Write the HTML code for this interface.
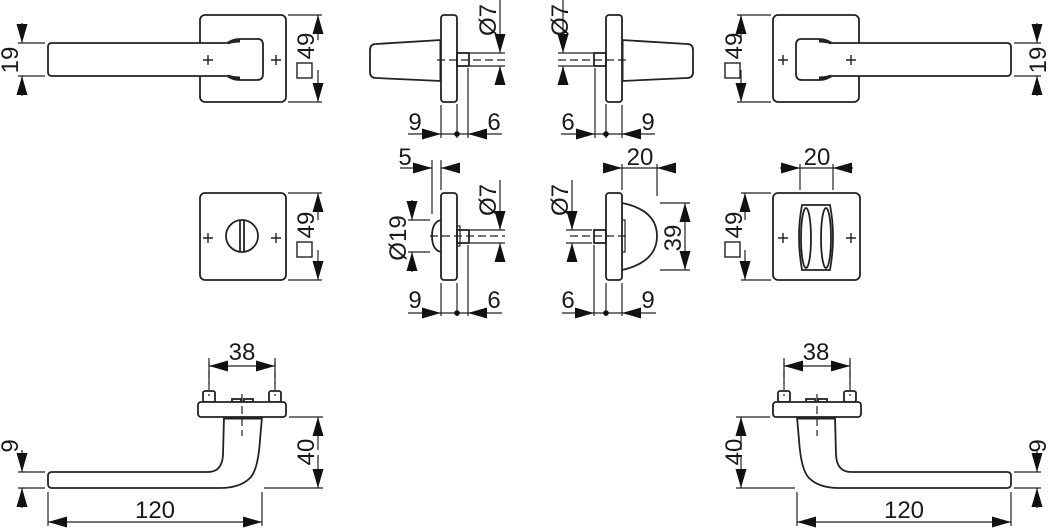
<!DOCTYPE html>
<html><head><meta charset="utf-8"><style>
html,body{margin:0;padding:0;background:#fff;}
svg{display:block;}
text{font-family:"Liberation Sans",sans-serif;font-size:24px;fill:#1a1a1a;}
</style></head><body>
<svg width="1048" height="528" viewBox="0 0 1048 528" xmlns="http://www.w3.org/2000/svg">
<defs>
<marker id="a" markerUnits="userSpaceOnUse" markerWidth="19" markerHeight="12" refX="19" refY="6" orient="auto"><path d="M0,0.5 L19,6 L0,11.5 Z" fill="#111"/></marker>
<g id="plus"><path d="M-5,0 H5 M0,-5 V5" stroke="#222" stroke-width="1.4"/></g>

<g id="tl" fill="none" stroke="#222" stroke-width="1.8">
 <rect x="200" y="15" width="86" height="87" rx="5"/>
 <path d="M52,43 L228,43 Q232,39 240,39 L258,39 Q263,39 263,45 L263,74 Q263,80 257,80 L240,80 Q232,80 228,76 L52,76 Q48,76 48,72 L48,47 Q48,43 52,43 Z" fill="#fff"/>
 <path d="M228,43 Q232,41 240,41 M228,76 Q232,78 240,78" stroke-width="3"/>
 <use href="#plus" x="208" y="60"/><use href="#plus" x="276" y="60"/>
 <path d="M288,15 H322 M288,102 H322 M18,43 H45 M18,76 H45" stroke-width="1.2"/>
 <line x1="318" y1="40" x2="318" y2="15" marker-end="url(#a)" stroke-width="1.2"/>
 <line x1="318" y1="70" x2="318" y2="102" marker-end="url(#a)" stroke-width="1.2"/>
 <line x1="22" y1="23" x2="22" y2="43" marker-end="url(#a)" stroke-width="1.2"/>
 <line x1="22" y1="96" x2="22" y2="76" marker-end="url(#a)" stroke-width="1.2"/>
</g>

<g id="ms" fill="none" stroke="#222" stroke-width="1.8">
 <path d="M441,40 L376,44 Q370,44 370,50 L370,72 Q370,78 376,78 L441,81" fill="#fff"/>
 <line x1="441" y1="41" x2="441" y2="80" stroke-width="3"/>
 <rect x="441" y="15" width="16" height="87" rx="3" fill="#fff"/>
 <rect x="457" y="53" width="12" height="13"/>
 <path d="M437,60 H505" stroke-dasharray="8,4" stroke-width="1.2"/>
 <path d="M470,53 H505 M470,66 H505 M441,105 V138 M468,68 V138" stroke-width="1.2"/>
 <line x1="500" y1="0" x2="500" y2="53" marker-end="url(#a)" stroke-width="1.2"/>
 <line x1="500" y1="84" x2="500" y2="66" marker-end="url(#a)" stroke-width="1.2"/>
 <line x1="408" y1="134" x2="441" y2="134" marker-end="url(#a)" stroke-width="1.2"/>
 <line x1="502" y1="134" x2="468" y2="134" marker-end="url(#a)" stroke-width="1.2"/>
 <path d="M441,134 H468 M457,104 V138" stroke-width="1.2"/>
 <circle cx="457" cy="134" r="2.8" fill="#111" stroke="none"/>
</g>

<g id="bl" fill="none" stroke="#222" stroke-width="1.8">
 <rect x="203" y="391" width="12" height="11" rx="2"/>
 <rect x="269" y="391" width="12" height="11" rx="2"/>
 <rect x="232" y="399" width="9" height="3"/><rect x="244" y="399" width="9" height="3"/>
 <rect x="198" y="402" width="88" height="15" rx="3" fill="#fff"/>
 <path d="M224,417 L223,455 Q222,472 208,472 L52,472 Q48,472 48,476 L48,484 Q48,488 52,488 L220,488 Q240,488 250,478 Q258,470 260,440 L262,417"/>
 <path d="M224,418 H262" stroke-width="3"/>
 <path d="M209,358 V396 M275,358 V396 M242,394 V436" stroke-dasharray="8,4" stroke-width="1.2"/>
 <path d="M209,362 V384 M275,362 V384" stroke-width="1.2"/>
 <line x1="242" y1="366" x2="209" y2="366" marker-end="url(#a)" stroke-width="1.2"/>
 <line x1="242" y1="366" x2="275" y2="366" marker-end="url(#a)" stroke-width="1.2"/>
 <path d="M289,417 H323 M264,488 H323 M18,472 H45 M18,488 H45 M48,492 V526 M262,492 V526" stroke-width="1.2"/>
 <line x1="318" y1="450" x2="318" y2="417" marker-end="url(#a)" stroke-width="1.2"/>
 <line x1="318" y1="455" x2="318" y2="488" marker-end="url(#a)" stroke-width="1.2"/>
 <line x1="22" y1="450" x2="22" y2="472" marker-end="url(#a)" stroke-width="1.2"/>
 <line x1="22" y1="508" x2="22" y2="488" marker-end="url(#a)" stroke-width="1.2"/>
 <line x1="150" y1="522" x2="48" y2="522" marker-end="url(#a)" stroke-width="1.2"/>
 <line x1="150" y1="522" x2="262" y2="522" marker-end="url(#a)" stroke-width="1.2"/>
</g>
</defs>

<use href="#tl"/>
<use href="#tl" transform="translate(1059,0) scale(-1,1)"/>
<use href="#ms"/>
<use href="#ms" transform="translate(1063,0) scale(-1,1)"/>
<use href="#bl"/>
<use href="#bl" transform="translate(1059,0) scale(-1,1)"/>

<g fill="none" stroke="#222" stroke-width="1.4">
 <rect x="297" y="63" width="15" height="15"/>
 <rect x="725" y="63" width="15" height="15"/>
 <rect x="297" y="242" width="15" height="15"/>
 <rect x="725" y="242" width="15" height="15"/>
</g>

<g fill="none" stroke="#222" stroke-width="1.8">
 <!-- middle-left escutcheon -->
 <rect x="200" y="193" width="86" height="87" rx="5"/>
 <circle cx="242" cy="236" r="16"/>
 <path d="M240,220 V252 M244,220 V252"/>
 <use href="#plus" x="208" y="238"/><use href="#plus" x="276" y="238"/>
 <path d="M288,193 H322 M288,280 H322" stroke-width="1.2"/>
 <line x1="318" y1="220" x2="318" y2="193" marker-end="url(#a)" stroke-width="1.2"/>
 <line x1="318" y1="250" x2="318" y2="280" marker-end="url(#a)" stroke-width="1.2"/>

 <!-- middle-right escutcheon -->
 <rect x="773" y="193" width="87" height="87" rx="5"/>
 <path d="M802,205 H830 Q836,236 830,270 H802 Q796,236 802,205 Z"/>
 <ellipse cx="806" cy="238" rx="5" ry="30"/>
 <ellipse cx="826" cy="238" rx="5" ry="30"/>
 <use href="#plus" x="783" y="238"/><use href="#plus" x="851" y="238"/>
 <path d="M741,193 H771 M741,280 H771 M800,164 V190 M833,164 V190" stroke-width="1.2"/>
 <line x1="745" y1="220" x2="745" y2="193" marker-end="url(#a)" stroke-width="1.2"/>
 <line x1="745" y1="250" x2="745" y2="280" marker-end="url(#a)" stroke-width="1.2"/>
 <line x1="780" y1="168" x2="800" y2="168" marker-end="url(#a)" stroke-width="1.2"/>
 <line x1="853" y1="168" x2="833" y2="168" marker-end="url(#a)" stroke-width="1.2"/>
 <path d="M800,168 H833" stroke-width="1.2"/>

 <!-- middle-left side view -->
 <path d="M441,220 Q432,222 432,236 Q432,250 441,252"/>
 <rect x="441" y="193" width="16" height="87" rx="3"/>
 <rect x="457" y="230" width="12" height="13"/>
 <rect x="457" y="226" width="3" height="20" stroke-width="1.2"/>
 <path d="M430,236 H505" stroke-dasharray="8,4" stroke-width="1.2"/>
 <path d="M470,230 H505 M470,243 H505 M408,220 H430 M408,252 H430 M432,160 V214 M441,160 V190 M441,283 V316 M468,245 V316" stroke-width="1.2"/>
 <line x1="500" y1="180" x2="500" y2="230" marker-end="url(#a)" stroke-width="1.2"/>
 <line x1="500" y1="262" x2="500" y2="243" marker-end="url(#a)" stroke-width="1.2"/>
 <line x1="412" y1="200" x2="412" y2="220" marker-end="url(#a)" stroke-width="1.2"/>
 <line x1="412" y1="272" x2="412" y2="252" marker-end="url(#a)" stroke-width="1.2"/>
 <line x1="400" y1="168" x2="432" y2="168" marker-end="url(#a)" stroke-width="1.2"/>
 <line x1="460" y1="168" x2="441" y2="168" marker-end="url(#a)" stroke-width="1.2"/>
 <line x1="408" y1="313" x2="441" y2="313" marker-end="url(#a)" stroke-width="1.2"/>
 <line x1="502" y1="313" x2="468" y2="313" marker-end="url(#a)" stroke-width="1.2"/>
 <path d="M441,313 H468 M457,283 V316" stroke-width="1.2"/>
 <circle cx="457" cy="313" r="2.8" fill="#111" stroke="none"/>

 <!-- middle-right side view -->
 <path d="M622,203 Q657,210 657,236 Q657,262 622,270"/>
 <rect x="622" y="220" width="3" height="32" stroke-width="1.2"/>
 <rect x="606" y="193" width="16" height="87" rx="3"/>
 <rect x="594" y="230" width="12" height="13"/>
 <path d="M570,236 H630" stroke-dasharray="8,4" stroke-width="1.2"/>
 <path d="M566,230 H592 M566,243 H592 M660,203 H690 M660,270 H690 M622,164 V190 M657,164 V196 M622,283 V316 M594,245 V316" stroke-width="1.2"/>
 <line x1="572" y1="180" x2="572" y2="230" marker-end="url(#a)" stroke-width="1.2"/>
 <line x1="572" y1="262" x2="572" y2="243" marker-end="url(#a)" stroke-width="1.2"/>
 <line x1="685" y1="236" x2="685" y2="203" marker-end="url(#a)" stroke-width="1.2"/>
 <line x1="685" y1="236" x2="685" y2="270" marker-end="url(#a)" stroke-width="1.2"/>
 <line x1="604" y1="168" x2="622" y2="168" marker-end="url(#a)" stroke-width="1.2"/>
 <line x1="675" y1="168" x2="657" y2="168" marker-end="url(#a)" stroke-width="1.2"/>
 <path d="M622,168 H657" stroke-width="1.2"/>
 <line x1="562" y1="313" x2="594" y2="313" marker-end="url(#a)" stroke-width="1.2"/>
 <line x1="656" y1="313" x2="622" y2="313" marker-end="url(#a)" stroke-width="1.2"/>
 <path d="M594,313 H622 M606,283 V316" stroke-width="1.2"/>
 <circle cx="606" cy="313" r="2.8" fill="#111" stroke="none"/>
</g>

<!-- Texts -->
<text transform="translate(18,60) rotate(-90)" text-anchor="middle">19</text>
<text transform="translate(314,46) rotate(-90)" text-anchor="middle">49</text>
<text transform="translate(742,46) rotate(-90)" text-anchor="middle">49</text>
<text transform="translate(1046,60) rotate(-90)" text-anchor="middle">19</text>

<text transform="translate(496,20) rotate(-90)" text-anchor="middle">Ø7</text>
<text transform="translate(568,20) rotate(-90)" text-anchor="middle">Ø7</text>
<text x="415" y="130" text-anchor="middle">9</text>
<text x="494" y="130" text-anchor="middle">6</text>
<text x="568" y="130" text-anchor="middle">6</text>
<text x="648" y="130" text-anchor="middle">9</text>

<text x="405" y="165" text-anchor="middle">5</text>
<text x="640" y="165" text-anchor="middle">20</text>
<text x="817" y="165" text-anchor="middle">20</text>
<text transform="translate(496,200) rotate(-90)" text-anchor="middle">Ø7</text>
<text transform="translate(568,200) rotate(-90)" text-anchor="middle">Ø7</text>
<text transform="translate(406,238) rotate(-90)" text-anchor="middle">Ø19</text>
<text transform="translate(681,238) rotate(-90)" text-anchor="middle">39</text>
<text transform="translate(314,225) rotate(-90)" text-anchor="middle">49</text>
<text transform="translate(742,225) rotate(-90)" text-anchor="middle">49</text>
<text x="415" y="308" text-anchor="middle">9</text>
<text x="494" y="308" text-anchor="middle">6</text>
<text x="568" y="308" text-anchor="middle">6</text>
<text x="648" y="308" text-anchor="middle">9</text>

<text x="242" y="360" text-anchor="middle">38</text>
<text x="816" y="360" text-anchor="middle">38</text>
<text transform="translate(314,452) rotate(-90)" text-anchor="middle">40</text>
<text transform="translate(742,452) rotate(-90)" text-anchor="middle">40</text>
<text transform="translate(18,446) rotate(-90)" text-anchor="middle">9</text>
<text transform="translate(1046,446) rotate(-90)" text-anchor="middle">9</text>
<text x="155" y="518" text-anchor="middle">120</text>
<text x="904" y="518" text-anchor="middle">120</text>
</svg>
</body></html>
